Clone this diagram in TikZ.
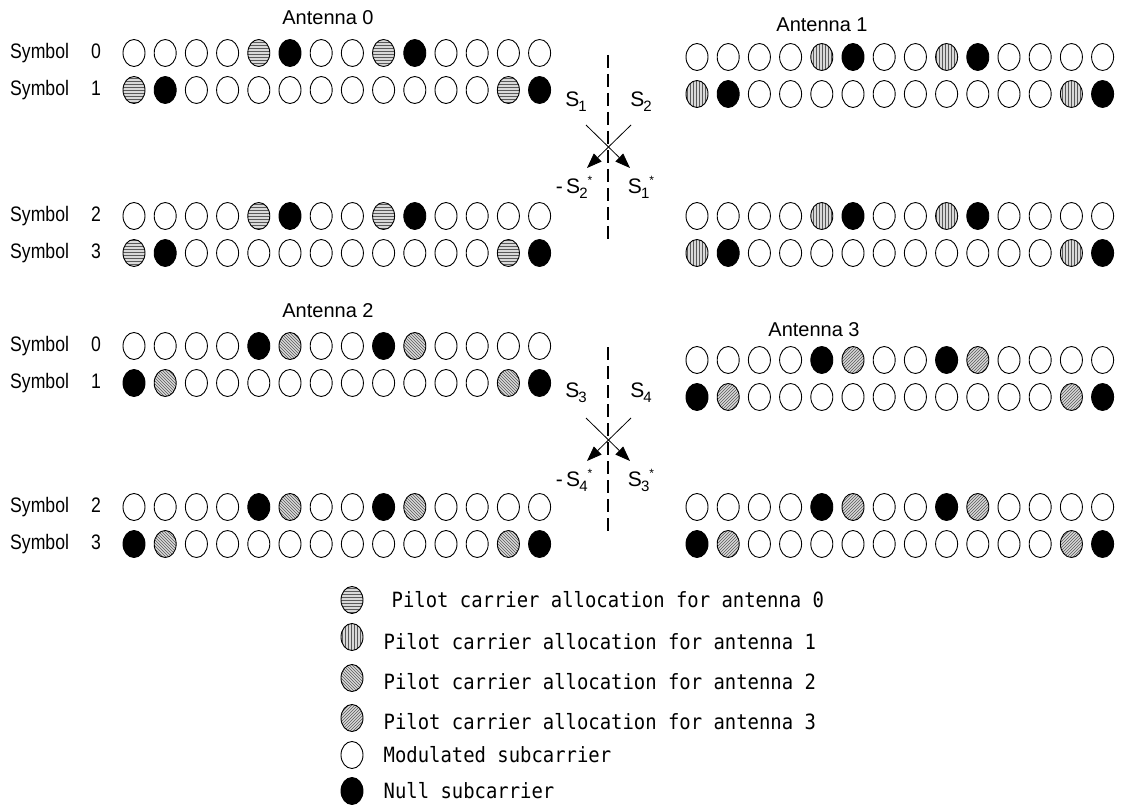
\documentclass[tikz,border=0pt]{standalone}
\usepackage{fontspec}
\setmainfont{Liberation Sans}
\newfontfamily\condfont[FakeStretch=0.84]{Liberation Sans}
\newfontfamily\legfont[FakeStretch=0.9]{DejaVu Sans Mono}
\usepackage{tikz}
\usetikzlibrary{shapes.geometric,patterns,arrows.meta,positioning}

% one row of 14 subcarriers: name, first x, y, list of kinds
\newcommand{\carrierrow}[4]{%
  \foreach \t [count=\i from 0] in {#4}
    \node[sc \t] (#1-\i) at ({#2+31.2*\i},#3) {};
}
% index below and star above, as in the drawing
\newcommand{\lowidx}[1]{\kern-1pt\raisebox{-5pt}{\fontsize{15}{15}\selectfont #1}}
\newcommand{\highidx}{\raisebox{9pt}{\fontsize{12}{12}\selectfont *}}

\begin{document}
\begin{tikzpicture}[
        x=1pt, y=-1pt,
        sub/.style={ellipse, draw, line width=0.9pt, minimum width=22pt,
                    minimum height=27pt, inner sep=0pt},
        sc m/.style={sub},
        sc z/.style={sub, fill=black},
        pilot/.style={sub, preaction={fill=gray!30}, pattern color=black!65},
        pilot hor/.style={pilot, pattern=horizontal lines},
        pilot ver/.style={pilot, pattern=vertical lines},
        pilot nw/.style={pilot, pattern=north west lines},
        pilot ne/.style={pilot, pattern=north east lines},
        symlbl/.style={anchor=west, inner sep=0pt, font=\condfont\fontsize{21}{23}\selectfont},
        antlbl/.style={inner sep=0pt, font=\fontsize{20}{22}\selectfont},
        slbl/.style={inner sep=0pt, font=\fontsize{21}{23}\selectfont},
        split/.style={line width=1.6pt, dash pattern=on 13pt off 6pt},
        swap/.style={line width=0.8pt, -{Triangle[length=15pt,width=11pt]}},
        legtxt/.style={anchor=west, inner sep=0pt, font=\legfont\fontsize{21}{23}\selectfont}
        ]
    \path[use as bounding box, fill=white] (0,0) rectangle (1122,805);

    % antenna 0
    \node[antlbl] (ant0) at (328,18) {Antenna 0};
    \begin{scope}[sc p/.style={pilot hor}]
        \carrierrow{a0s0}{134}{53}{m,m,m,m,p,z,m,m,p,z,m,m,m,m}
        \carrierrow{a0s1}{134}{90}{p,z,m,m,m,m,m,m,m,m,m,m,p,z}
        \carrierrow{a0s2}{134}{216}{m,m,m,m,p,z,m,m,p,z,m,m,m,m}
        \carrierrow{a0s3}{134}{253}{p,z,m,m,m,m,m,m,m,m,m,m,p,z}
    \end{scope}

    % antenna 1
    \node[antlbl] (ant1) at (822,25) {Antenna 1};
    \begin{scope}[sc p/.style={pilot ver}]
        \carrierrow{a1s0}{697}{57}{m,m,m,m,p,z,m,m,p,z,m,m,m,m}
        \carrierrow{a1s1}{697}{94}{p,z,m,m,m,m,m,m,m,m,m,m,p,z}
        \carrierrow{a1s2}{697}{216}{m,m,m,m,p,z,m,m,p,z,m,m,m,m}
        \carrierrow{a1s3}{697}{253}{p,z,m,m,m,m,m,m,m,m,m,m,p,z}
    \end{scope}

    % antenna 2
    \node[antlbl] (ant2) at (328,311) {Antenna 2};
    \begin{scope}[sc p/.style={pilot nw}]
        \carrierrow{a2s0}{134}{346}{m,m,m,m,z,p,m,m,z,p,m,m,m,m}
        \carrierrow{a2s1}{134}{383}{z,p,m,m,m,m,m,m,m,m,m,m,p,z}
        \carrierrow{a2s2}{134}{507}{m,m,m,m,z,p,m,m,z,p,m,m,m,m}
        \carrierrow{a2s3}{134}{544}{z,p,m,m,m,m,m,m,m,m,m,m,p,z}
    \end{scope}

    % antenna 3
    \node[antlbl] (ant3) at (814,330) {Antenna 3};
    \begin{scope}[sc p/.style={pilot ne}]
        \carrierrow{a3s0}{697}{360}{m,m,m,m,z,p,m,m,z,p,m,m,m,m}
        \carrierrow{a3s1}{697}{397}{z,p,m,m,m,m,m,m,m,m,m,m,p,z}
        \carrierrow{a3s2}{697}{507}{m,m,m,m,z,p,m,m,z,p,m,m,m,m}
        \carrierrow{a3s3}{697}{544}{z,p,m,m,m,m,m,m,m,m,m,m,p,z}
    \end{scope}

    % symbol labels
    \foreach \n/\y in {0/53,1/90,2/216,3/253}
        \node[symlbl] (symu\n) at (10,\y) {Symbol\hspace{22pt}\n};
    \foreach \n/\y in {0/346,1/383,2/507,3/544}
        \node[symlbl] (syml\n) at (10,\y) {Symbol\hspace{22pt}\n};

    % space-time coding, upper pair
    \coordinate (d1t) at (608,55);
    \coordinate (d1b) at (608,242);
    \draw[split] (d1t) -- (d1b);
    \node[slbl] (s1) at (576,102) {S\lowidx{1}};
    \node[slbl] (s2) at (641,102) {S\lowidx{2}};
    \coordinate (c1a) at (586,125);
    \coordinate (c1b) at (631,125);
    \coordinate (c1c) at (587,168);
    \coordinate (c1d) at (630,168);
    \draw[swap] (c1a) -- (c1d);
    \draw[swap] (c1b) -- (c1c);
    \node[slbl] (s2c) at (574,187) {-\,S\lowidx{2}\highidx};
    \node[slbl] (s1c) at (641,187) {S\lowidx{1}\highidx};

    % space-time coding, lower pair
    \coordinate (d2t) at (608,347);
    \coordinate (d2b) at (608,534);
    \draw[split] (d2t) -- (d2b);
    \node[slbl] (s3) at (576,393) {S\lowidx{3}};
    \node[slbl] (s4) at (641,393) {S\lowidx{4}};
    \coordinate (c2a) at (586,418);
    \coordinate (c2b) at (631,418);
    \coordinate (c2c) at (587,461);
    \coordinate (c2d) at (630,461);
    \draw[swap] (c2a) -- (c2d);
    \draw[swap] (c2b) -- (c2c);
    \node[slbl] (s4c) at (574,480) {-\,S\lowidx{4}\highidx};
    \node[slbl] (s3c) at (641,480) {S\lowidx{3}\highidx};

    % legend
    \node[pilot hor] (leg0) at (352,600) {};
    \node[pilot ver] (leg1) at (352,637) {};
    \node[pilot nw]  (leg2) at (352,678) {};
    \node[pilot ne]  (leg3) at (352,718) {};
    \node[sc m]      (leg4) at (352,755) {};
    \node[sc z]      (leg5) at (352,791) {};
    \node[legtxt, right=28pt of leg0] (t0) {Pilot carrier allocation for antenna 0};
    \node[legtxt, right=20pt of leg1, yshift=-5pt] (t1) {Pilot carrier allocation for antenna 1};
    \node[legtxt, right=20pt of leg2, yshift=-4pt] (t2) {Pilot carrier allocation for antenna 2};
    \node[legtxt, right=20pt of leg3, yshift=-4pt] (t3) {Pilot carrier allocation for antenna 3};
    \node[legtxt, right=20pt of leg4] (t4) {Modulated subcarrier};
    \node[legtxt, right=20pt of leg5] (t5) {Null subcarrier};
\end{tikzpicture}
\end{document}
